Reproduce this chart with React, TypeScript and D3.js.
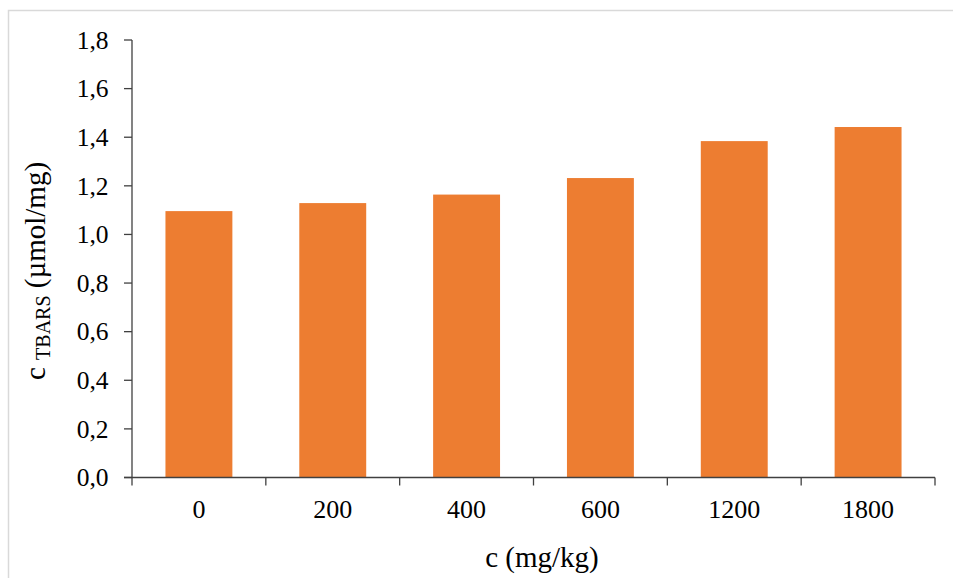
import React from "react";
import * as d3 from "d3";

const categories = ["0", "200", "400", "600", "1200", "1800"];
const values = [1.096, 1.129, 1.164, 1.232, 1.384, 1.442];
const yTicks = [0, 0.2, 0.4, 0.6, 0.8, 1.0, 1.2, 1.4, 1.6, 1.8];

const W = 953;
const H = 578;
const plot = { left: 132, right: 935, top: 40, bottom: 477.5 };
const font = "'Liberation Serif', 'Times New Roman', serif";
const axisColor = "#404040";

export default function App() {
  const x = d3
    .scaleBand<string>()
    .domain(categories)
    .range([plot.left, plot.right])
    .paddingInner(0.5)
    .paddingOuter(0.25);
  const xOuter = d3.scaleBand<string>().domain(categories).range([plot.left, plot.right]);
  const y = d3.scaleLinear().domain([0, 1.8]).range([plot.bottom, plot.top]);
  const fmt = (v: number) => d3.format(".1f")(v).replace(".", ",");
  const boundaries = categories.map((c) => xOuter(c) as number).concat([plot.right]);

  return (
    <svg
      width={W}
      height={H}
      style={{ position: "absolute", left: 0, top: 0, background: "#fff" }}
      fontFamily={font}
    >
      <rect x={8.5} y={10.5} width={1000} height={700} fill="#fff" stroke="#d9d9d9" strokeWidth={1.5} />
      {categories.map((c, i) => (
        <rect
          key={c}
          x={x(c)}
          y={y(values[i])}
          width={x.bandwidth()}
          height={plot.bottom - y(values[i])}
          fill="#ED7D31"
        />
      ))}
      {/* y axis */}
      <line x1={plot.left} x2={plot.left} y1={plot.top} y2={plot.bottom} stroke={axisColor} strokeWidth={1.3} />
      {yTicks.map((t) => (
        <g key={t}>
          <line x1={plot.left - 8} x2={plot.left} y1={y(t)} y2={y(t)} stroke={axisColor} strokeWidth={1.3} />
          <text x={108.5} y={y(t)} dy="0.34em" textAnchor="end" fontSize={25.5} fill="#000">
            {fmt(t)}
          </text>
        </g>
      ))}
      {/* x axis */}
      <line x1={plot.left - 8} x2={plot.right} y1={plot.bottom} y2={plot.bottom} stroke={axisColor} strokeWidth={1.3} />
      {boundaries.map((b, i) => (
        <line key={i} x1={b} x2={b} y1={plot.bottom} y2={plot.bottom + 8} stroke={axisColor} strokeWidth={1.3} />
      ))}
      {categories.map((c) => (
        <text
          key={c}
          x={(xOuter(c) as number) + xOuter.bandwidth() / 2}
          y={518}
          textAnchor="middle"
          fontSize={26}
          fill="#000"
        >
          {c}
        </text>
      ))}
      <text x={542} y={567} textAnchor="middle" fontSize={29} fill="#000">
        c (mg/kg)
      </text>
      <text transform="translate(45,271) rotate(-90)" textAnchor="middle" fontSize={29} fill="#000">
        <tspan>c </tspan>
        <tspan fontSize={20} dy={5}>TBARS</tspan>
        <tspan dy={-5}> (µmol/mg)</tspan>
      </text>
    </svg>
  );
}
